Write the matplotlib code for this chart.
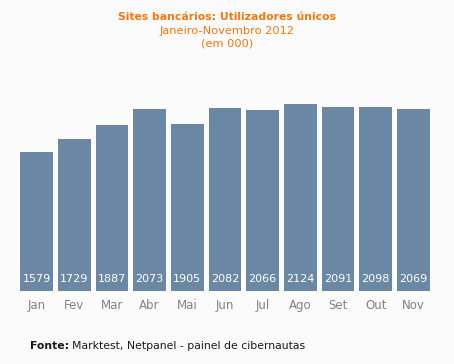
import matplotlib
matplotlib.use("Agg")
import matplotlib.pyplot as plt

months = ["Jan", "Fev", "Mar", "Abr", "Mai", "Jun", "Jul", "Ago", "Set", "Out", "Nov"]
users = [1579, 1729, 1887, 2073, 1905, 2082, 2066, 2124, 2091, 2098, 2069]

bg = "#fbfbfb"
bar_color = "#6a87a3"
orange = "#f7760f"

fig = plt.figure(figsize=(4.54, 3.64), dpi=100, facecolor=bg)
W, H = 454, 364
# axes placed in pixel coordinates
left, right, bottom, top = 14, 436, 291, 89
ax = fig.add_axes([left / W, 1 - bottom / H, (right - left) / W, (bottom - top) / H])
ax.set_facecolor(bg)

x = list(range(len(months)))
ax.bar(x, users, width=0.87, color=bar_color)
for xi, v in zip(x, users):
    ax.text(xi, 80, str(v), ha="center", va="bottom", color="white", fontsize=8.0)

ax.set_xlim(-0.6, len(months) - 0.4)
ax.set_ylim(0, 2300)
ax.set_yticks([])
ax.set_xticks(x)
ax.set_xticklabels(months, fontsize=8.5, color="#8a7b8c")
ax.tick_params(axis="x", length=0, pad=6)
for s in ax.spines.values():
    s.set_visible(False)

fig.text(0.5, 1 - 17 / H, "Sites bancários: Utilizadores únicos", ha="center", va="center",
         color=orange, fontsize=7.8, fontweight="bold")
fig.text(0.5, 1 - 31 / H, "Janeiro-Novembro 2012", ha="center", va="center",
         color=orange, fontsize=8.2)
fig.text(0.5, 1 - 44 / H, "(em 000)", ha="center", va="center",
         color=orange, fontsize=8.2)

t = fig.text(30 / W, 1 - 346 / H, "Fonte:", ha="left", va="center",
             color="#1a1a1a", fontsize=7.8, fontweight="bold")
fig.canvas.draw()
bb = t.get_window_extent()
fig.text((bb.x1 + 3) / W, 1 - 346 / H, "Marktest, Netpanel - painel de cibernautas",
         ha="left", va="center", color="#1a1a1a", fontsize=7.8)

fig.savefig("out.png", dpi=100, facecolor=bg)
